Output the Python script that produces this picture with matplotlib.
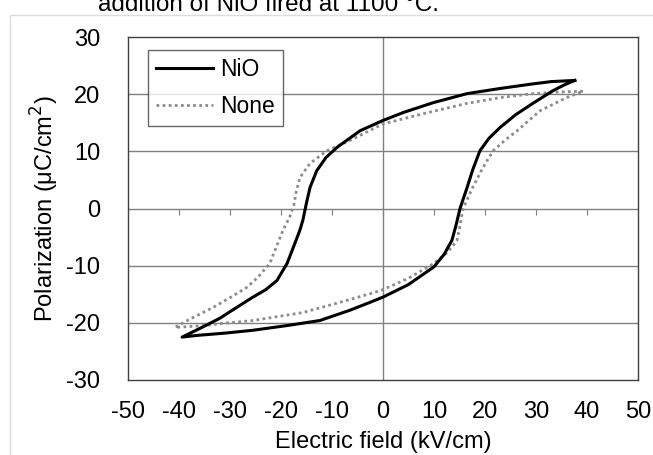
import matplotlib
matplotlib.use("Agg")
import matplotlib.pyplot as plt
from matplotlib.patches import Rectangle

plt.rcParams['font.family'] = ['Liberation Sans', 'DejaVu Sans']
plt.rcParams['axes.unicode_minus'] = False

# NiO loop: upper branch (from +Emax to -Emax), then lower branch back
nio_x = [37.6, 33.0, 29.4, 23.0, 16.5, 9.8, 4.0, 0.0, -4.5, -9.0, -11.2, -13.0, -14.3, -15.0,
         -15.7, -16.3, -17.5, -18.8, -20.8, -23.0, -25.5, -28.5, -32.0, -35.5, -39.4,
         -36.5, -31.0, -25.5, -19.0, -12.4, -6.5, -2.5, 0.0, 5.0, 10.0, 12.0, 13.5,
         14.3, 15.1, 16.5, 17.6, 19.0, 20.8, 23.0, 26.0, 29.4, 33.3, 35.5, 37.6]
nio_y = [22.4, 22.2, 21.8, 21.0, 20.1, 18.5, 16.8, 15.4, 13.6, 10.7, 8.9, 6.6, 3.7, 1.0,
         -2.0, -3.8, -6.6, -9.6, -12.6, -14.2, -15.5, -17.2, -19.2, -20.8, -22.5,
         -22.2, -21.8, -21.3, -20.5, -19.6, -17.8, -16.4, -15.5, -13.3, -10.2, -8.0, -5.6,
         -3.0, 0.0, 3.7, 6.8, 10.1, 12.3, 14.2, 16.4, 18.4, 20.6, 21.6, 22.4]

# Undoped (None) loop
none_x = [39.2, 35.0, 29.4, 23.0, 16.5, 8.0, 0.0, -6.5, -11.0, -14.3, -16.3, -17.0,
          -17.5, -18.3, -19.6, -22.2, -24.5, -26.7, -30.0, -33.3, -38.4, -40.8,
          -35.3, -30.5, -25.5, -15.7, -8.0, -2.5, 0.0, 5.0, 10.0, 12.5, 14.5, 15.1,
          15.7, 17.6, 19.5, 21.6, 24.0, 26.3, 30.8, 36.0, 39.2]
none_y = [20.5, 20.4, 20.1, 19.4, 18.4, 16.6, 14.8, 11.9, 10.1, 7.9, 5.4, 3.0,
          0.5, -1.5, -3.8, -9.6, -12.0, -13.8, -15.6, -17.3, -19.6, -20.8,
          -20.5, -20.0, -19.6, -18.2, -16.3, -14.9, -14.2, -12.2, -9.6, -7.8, -5.6, -3.0,
          0.0, 3.7, 7.0, 10.1, 12.0, 13.6, 17.1, 19.4, 20.5]

x_ticks = [-50, -40, -30, -20, -10, 0, 10, 20, 30, 40, 50]
y_ticks = [-30, -20, -10, 0, 10, 20, 30]

FS = 17

fig = plt.figure(figsize=(6.53, 4.55), dpi=100)
fig.patches.append(Rectangle((10 / 653, -0.01), 1.0, 1 - 15 / 455 + 0.01,
                             transform=fig.transFigure, fill=False,
                             edgecolor='#dcdcdc', linewidth=1.0))
fig.text(98 / 653, 1 - 11 / 455, "addition of NiO fired at 1100 °C.",
         fontsize=17.5, va='baseline', ha='left', color='black')

ax = fig.add_axes([128 / 653, 1 - 380 / 455, (638 - 128) / 653, (380 - 37) / 455])
ax.set_xlim(-50, 50)
ax.set_ylim(-30, 30)

for yv in [-20, -10, 10, 20]:
    ax.axhline(yv, color='#808080', linewidth=1.0, zorder=1)
ax.axhline(0, color='#808080', linewidth=1.0, zorder=1)
ax.axvline(0, color='#808080', linewidth=1.0, zorder=1)

ax.plot(none_x, none_y, color='#8c8c8c', linewidth=2.0, linestyle=(0, (1, 1.2)),
        label='None', zorder=3)
ax.plot(nio_x, nio_y, color='black', linewidth=2.2, label='NiO', zorder=4,
        solid_joinstyle='round')

ax.set_xticks(x_ticks)
ax.set_yticks(y_ticks)
ax.tick_params(axis='both', length=0, labelsize=FS)
ax.tick_params(axis='y', pad=20)
ax.tick_params(axis='x', pad=15)
for sp in ax.spines.values():
    sp.set_color('#404040')
    sp.set_linewidth(1.0)

sec = ax.secondary_xaxis(0.5)
sec.set_alignment('bottom')
sec.set_xticks(x_ticks[1:-1])
sec.tick_params(axis='x', direction='out', length=4, color='#808080',
                bottom=True, top=False, labelbottom=False, labeltop=False)
for sp in sec.spines.values():
    sp.set_visible(False)

ax.set_xlabel("Electric field (kV/cm)", fontsize=FS, labelpad=6)
ax.set_ylabel("Polarization (μC/cm$^2$)", fontsize=FS, labelpad=4)

handles, labels = ax.get_legend_handles_labels()
leg = ax.legend(handles[::-1], labels[::-1], loc='upper left',
                bbox_to_anchor=((148 - 128) / 510, 1 - (50 - 37) / 343),
                fontsize=16.5, frameon=True, fancybox=False, handlelength=2.5,
                handletextpad=0.3, borderpad=0.35, labelspacing=0.6,
                borderaxespad=0)
leg.get_frame().set_edgecolor('#404040')
leg.get_frame().set_linewidth(1.0)

fig.savefig("out.png", dpi=100)
